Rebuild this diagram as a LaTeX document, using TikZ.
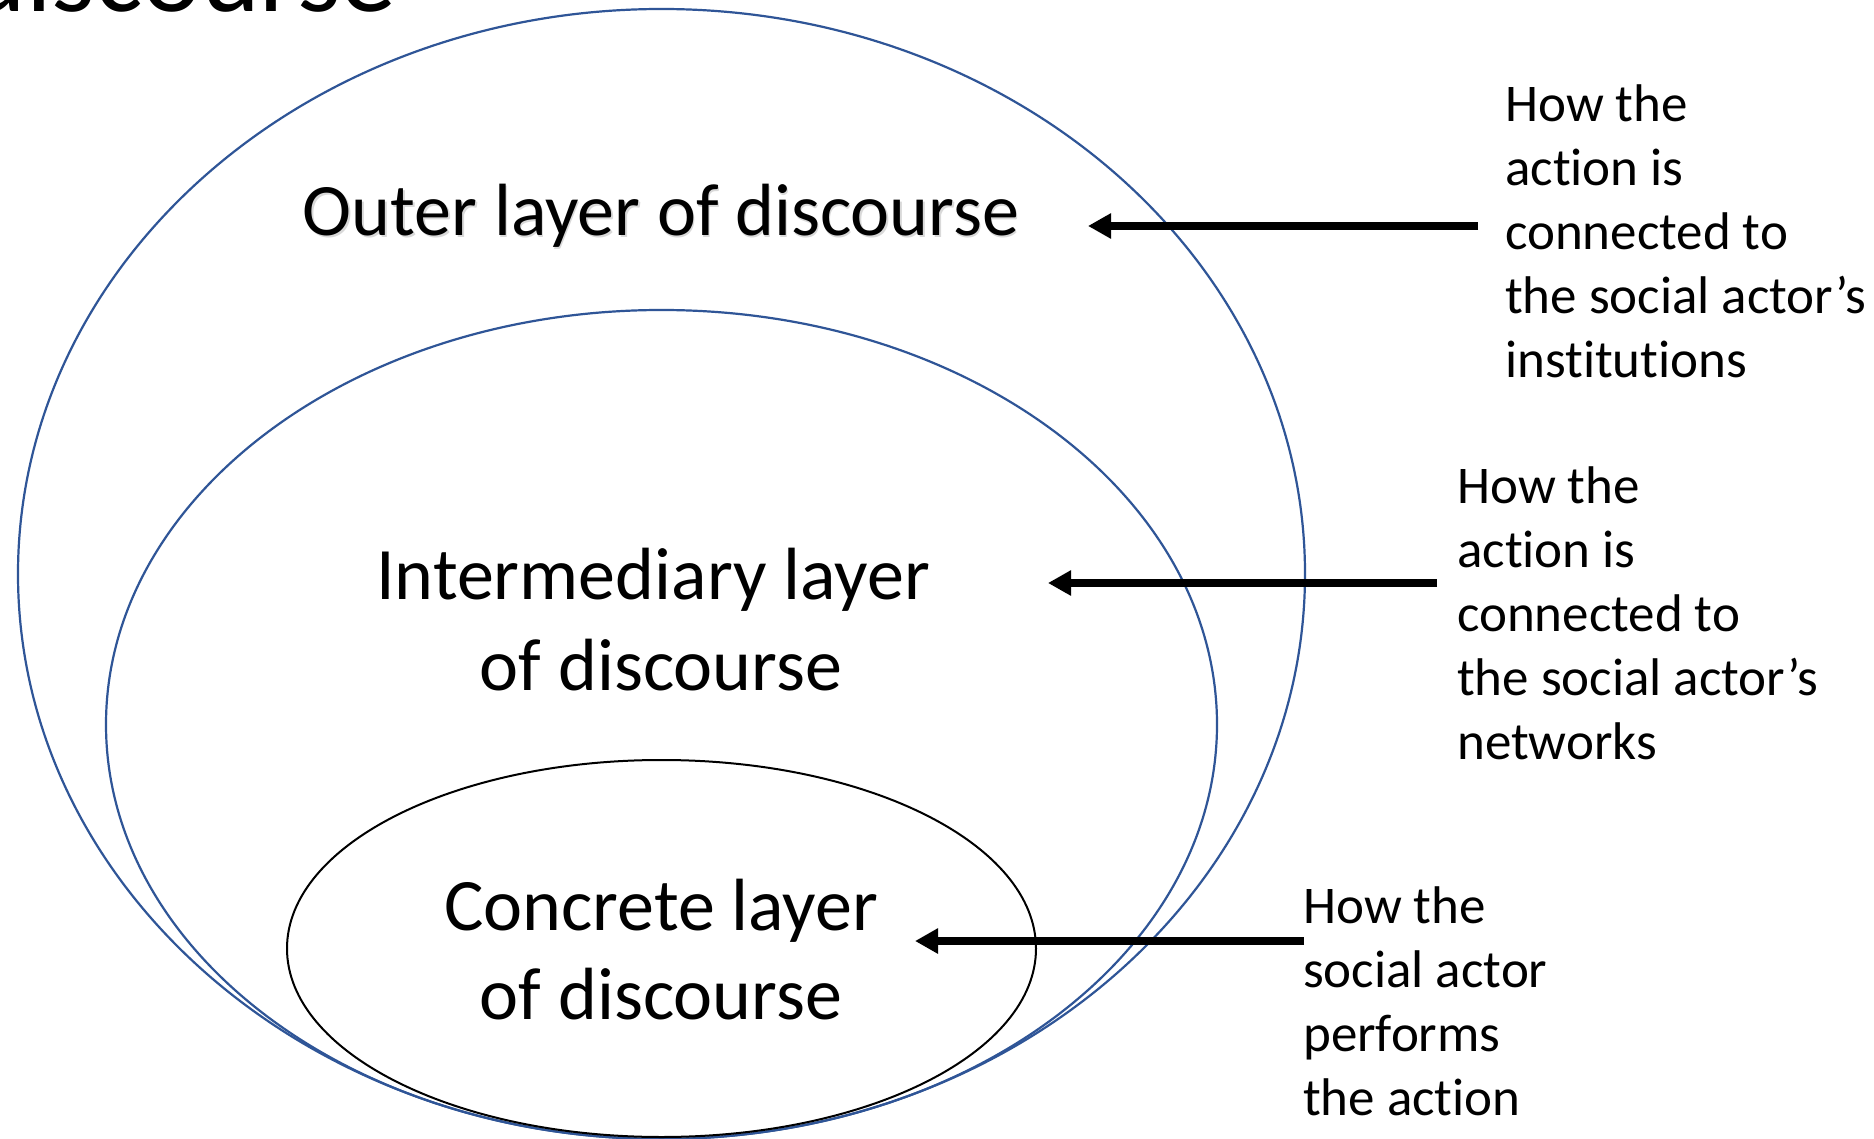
\documentclass[tikz,border=0pt]{standalone}
\usepackage{fontspec}
\setmainfont{Carlito}[Ligatures=NoCommon]
\usetikzlibrary{arrows.meta}
\definecolor{ringblue}{RGB}{47,85,151}
\begin{document}
\begin{tikzpicture}[x=1pt,y=-1pt,
  ring/.style={draw=ringblue, line width=2.2pt},
  innerring/.style={draw=black, line width=2pt},
  big/.style={font=\fontsize{74}{88}\selectfont, inner sep=0pt, anchor=base},
  side/.style={font=\fontsize{53}{64}\selectfont, inner sep=0pt, anchor=base west},
  pointer/.style={line width=8pt, -{Triangle[length=23pt,width=24pt]}},
]
\useasboundingbox (0,0) rectangle (1874,1139);
\clip (0,0) rectangle (1874,1139);
\fill[white] (0,0) rectangle (1874,1139);

% title remnant
\node[font=\fontsize{112}{130}\selectfont, inner sep=0pt, anchor=base east] (title) at (397,12) {discourse};

% ellipses
\draw[ring] (661.5,574) ellipse [x radius=643.5, y radius=565];
\draw[ring] (661.5,724.5) ellipse [x radius=555.5, y radius=414.5];
\draw[innerring] (661.5,948.5) ellipse [x radius=374.5, y radius=188.5];

% layer labels
\node[big, text=black!15] (outershadow) at (662.5,237.5) {Outer layer of discourse};
\node[big] (outer) at (661,236) {Outer layer of discourse};
\node[big] (mid1) at (653,599) {Intermediary layer};
\node[big] (mid2) at (661,690) {of discourse};
\node[big] (con1) at (661,930) {Concrete layer};
\node[big] (con2) at (661,1019) {of discourse};

% side texts
\foreach \t [count=\i from 0] in {How the, action is, connected to, the social actor’s, institutions}
  \node[side] (ra\i) at (1505,{122+64*\i}) {\t};
\foreach \t [count=\i from 0] in {How the, action is, connected to, the social actor’s, networks}
  \node[side] (rb\i) at (1457,{503+64*\i}) {\t};
\foreach \t [count=\i from 0] in {How the, social actor, performs, the action}
  \node[side] (rc\i) at (1303,{923+64*\i}) {\t};

% arrows
\coordinate (a1tail) at (1478,226);
\coordinate (a1tip) at (1088,226);
\coordinate (a2tail) at (1437,583);
\coordinate (a2tip) at (1048,583);
\coordinate (a3tail) at (1304,941);
\coordinate (a3tip) at (915,941);
\draw[pointer] (a1tail) -- (a1tip);
\draw[pointer] (a2tail) -- (a2tip);
\draw[pointer] (a3tail) -- (a3tip);
\end{tikzpicture}
\end{document}
